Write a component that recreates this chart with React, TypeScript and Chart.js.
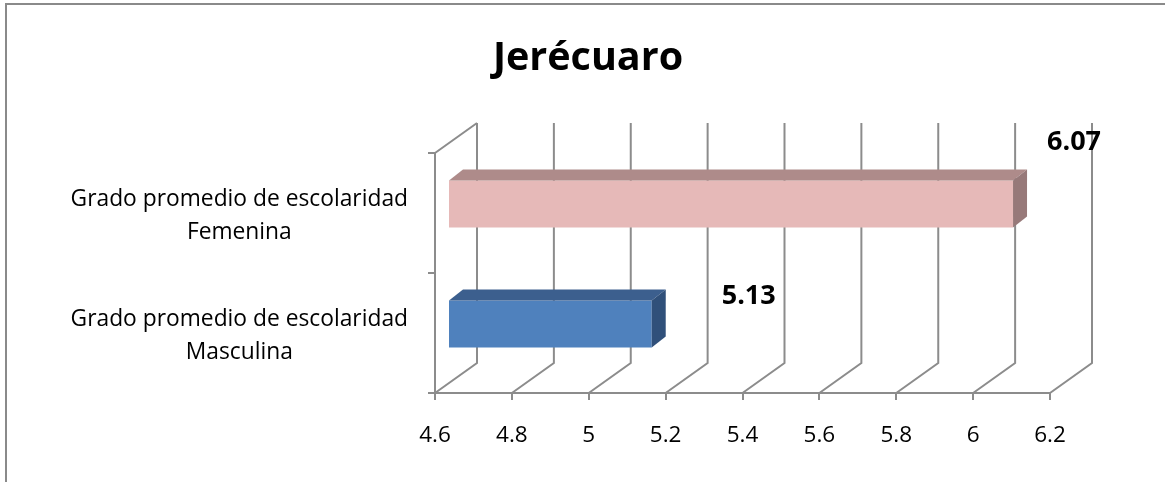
import React, { useEffect, useRef } from 'react';
import { Chart, registerables } from 'chart.js';

Chart.register(...registerables);

// ---- data ----
const TITLE = 'Jerécuaro';
const CATEGORIES: string[][] = [
  ['Grado promedio de escolaridad', 'Femenina'],
  ['Grado promedio de escolaridad', 'Masculina'],
];
const VALUES: number[] = [6.07, 5.13];
const VALUE_LABELS: string[] = ['6.07', '5.13'];
const X_MIN = 4.6;
const X_MAX = 6.2;
const X_STEP = 0.2;

// ---- styles ----
const FONT = '"Open Sans"';
const GRID = '#8c8c8c';
const FRONT = ['#E6B9B8', '#4F81BD'];
const TOP_FACE = ['#AE8B8A', '#3C5F8E'];
const SIDE_FACE = ['#977979', '#30507A'];
const FLOOR_DEPTH = { x: 42, y: -30 };
const BAR_SHIFT = { x: 13, y: -9 };
const BAR_DEPTH = { x: 14, y: -11 };
const LABEL_OFFSETS = [
  { x: 74, y: -71 },
  { x: 110, y: -37 },
];

const threeD = {
  id: 'threeD',
  beforeDraw(chart: any) {
    const { ctx, width, height } = chart;
    ctx.save();
    ctx.fillStyle = '#ffffff';
    ctx.fillRect(0, 0, width, height);
    ctx.strokeStyle = '#8a8a8a';
    ctx.lineWidth = 2;
    ctx.beginPath();
    ctx.moveTo(6, height);
    ctx.lineTo(6, 4);
    ctx.lineTo(width, 4);
    ctx.stroke();
    ctx.fillStyle = '#000';
    ctx.font = `bold 39.5px ${FONT}`;
    ctx.textAlign = 'center';
    ctx.textBaseline = 'alphabetic';
    ctx.fillText(TITLE, 588, 70);
    ctx.restore();
  },
  beforeDatasetsDraw(chart: any) {
    const { ctx, chartArea: a, scales } = chart;
    const xs = scales.x;
    ctx.save();
    ctx.strokeStyle = GRID;
    ctx.lineWidth = 2;
    ctx.beginPath();
    xs.ticks.forEach((t: any) => {
      const px = xs.getPixelForValue(t.value);
      ctx.moveTo(px, a.bottom);
      ctx.lineTo(px + FLOOR_DEPTH.x, a.bottom + FLOOR_DEPTH.y);
      ctx.lineTo(px + FLOOR_DEPTH.x, a.top + FLOOR_DEPTH.y);
    });
    ctx.moveTo(a.left, a.top);
    ctx.lineTo(a.left + FLOOR_DEPTH.x, a.top + FLOOR_DEPTH.y);
    ctx.stroke();
    ctx.restore();
    ctx.save();
    ctx.translate(BAR_SHIFT.x, BAR_SHIFT.y);
  },
  afterDatasetsDraw(chart: any) {
    const { ctx, chartArea: a } = chart;
    ctx.restore();
    const meta = chart.getDatasetMeta(0);
    meta.data.forEach((el: any, i: number) => {
      const { x, y, base, height } = el.getProps(['x', 'y', 'base', 'height'], true);
      const x0 = Math.max(Math.min(x, base), a.left) + BAR_SHIFT.x;
      const x1 = Math.max(x, base) + BAR_SHIFT.x;
      const y0 = y - height / 2 + BAR_SHIFT.y;
      const y1 = y + height / 2 + BAR_SHIFT.y;
      const dx = BAR_DEPTH.x;
      const dy = BAR_DEPTH.y;
      ctx.save();
      ctx.fillStyle = TOP_FACE[i];
      ctx.beginPath();
      ctx.moveTo(x0, y0);
      ctx.lineTo(x1, y0);
      ctx.lineTo(x1 + dx, y0 + dy);
      ctx.lineTo(x0 + dx, y0 + dy);
      ctx.closePath();
      ctx.fill();
      ctx.fillStyle = SIDE_FACE[i];
      ctx.beginPath();
      ctx.moveTo(x1, y0);
      ctx.lineTo(x1 + dx, y0 + dy);
      ctx.lineTo(x1 + dx, y1 + dy);
      ctx.lineTo(x1, y1);
      ctx.closePath();
      ctx.fill();
      ctx.fillStyle = '#000';
      ctx.font = `bold 27px ${FONT}`;
      ctx.textAlign = 'center';
      ctx.textBaseline = 'middle';
      const off = LABEL_OFFSETS[i] || { x: 60, y: -40 };
      ctx.fillText(VALUE_LABELS[i], x + off.x, y + off.y);
      ctx.restore();
    });
  },
};

export default function App() {
  const ref = useRef<HTMLCanvasElement>(null);
  useEffect(() => {
    if (!ref.current) return;
    Chart.defaults.font.family = FONT;
    const chart = new Chart(ref.current, {
      type: 'bar',
      data: {
        labels: CATEGORIES as any,
        datasets: [
          {
            data: VALUES,
            base: X_MIN,
            backgroundColor: FRONT,
            borderWidth: 0,
            barPercentage: 0.39,
            categoryPercentage: 1,
          },
        ],
      },
      options: {
        responsive: false,
        animation: false,
        indexAxis: 'y',
        layout: { padding: { top: 153, right: 115, left: 0, bottom: 0 } },
        plugins: {
          legend: { display: false },
          tooltip: { enabled: false },
          title: { display: false },
        },
        scales: {
          x: {
            type: 'linear',
            min: X_MIN,
            max: X_MAX,
            ticks: {
              stepSize: X_STEP,
              color: '#000',
              font: { family: FONT, size: 22.5, lineHeight: 1.2 },
              padding: 22,
              callback: (v: any) => String(Number(Number(v).toFixed(1))),
            },
            grid: { drawOnChartArea: false, drawTicks: true, tickLength: 7, color: GRID, lineWidth: 2 },
            border: { display: true, color: GRID, width: 2 },
            afterFit: (s: any) => {
              s.height = 89;
            },
          },
          y: {
            type: 'category',
            ticks: {
              color: '#000',
              font: { family: FONT, size: 22.8, lineHeight: 1.43 },
              crossAlign: 'center',
              padding: 20,
              labelOffset: 3,
            },
            grid: { drawOnChartArea: false, drawTicks: true, tickLength: 7, color: GRID, lineWidth: 2, offset: true },
            border: { display: true, color: GRID, width: 2 },
            afterFit: (s: any) => {
              s.width = 435;
            },
          },
        },
      } as any,
      plugins: [threeD],
    });
    return () => chart.destroy();
  }, []);
  return (
    <div style={{ position: 'fixed', left: 0, top: 0, width: 1165, height: 482, background: '#fff' }}>
      <canvas ref={ref} width={1165} height={482} style={{ display: 'block' }} />
    </div>
  );
}
